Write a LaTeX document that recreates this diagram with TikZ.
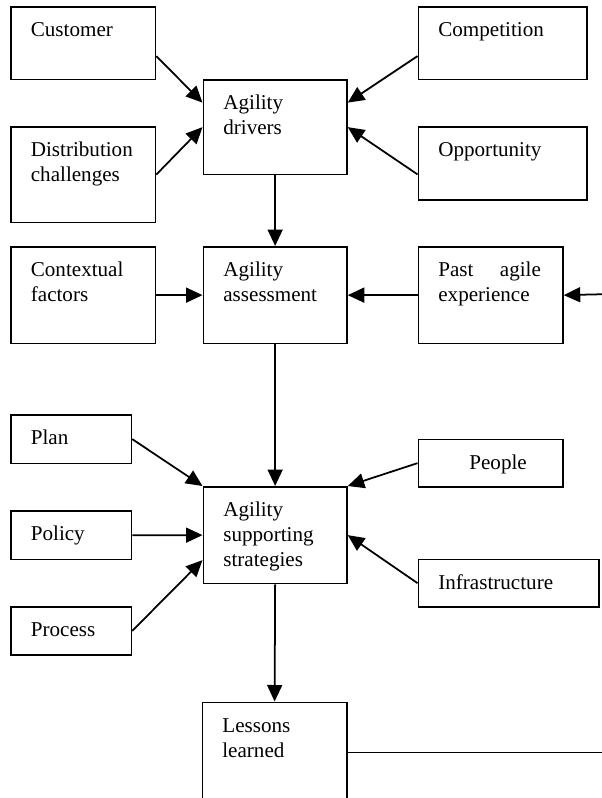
\documentclass[tikz,border=0pt]{standalone}
\usepackage{fontspec}
\setmainfont{Liberation Serif}
\usetikzlibrary{arrows.meta}
\begin{document}
\begin{tikzpicture}[x=1cm,y=1cm,
  box/.style 2 args={draw, line width=1pt, anchor=north west, align=left,
    inner xsep=0.4cm, inner ysep=0pt, text height=0.6cm,
    text width=#1, text depth=#2, font=\fontsize{12pt}{14.2pt}\selectfont},
  arr/.style={line width=1pt, -{Triangle[length=0.33cm,width=0.3cm]}}]
\useasboundingbox (0,0) rectangle (12.04,-15.96);
\node[box={2.09cm}{0.85cm}] (cu) at (0.20,-0.12) {Customer};
\node[box={2.57cm}{0.85cm}] (co) at (8.35,-0.12) {Competition};
\node[box={2.07cm}{1.29cm}] (dr) at (4.05,-1.58) {Agility\\drivers};
\node[box={2.09cm}{1.31cm}] (di) at (0.20,-2.52) {Distribution\\challenges};
\node[box={2.57cm}{0.86cm}] (op) at (8.35,-2.52) {Opportunity};
\node[box={2.09cm}{1.33cm}] (cx) at (0.20,-4.92) {Contextual\\factors};
\node[box={2.07cm}{1.33cm}] (as) at (4.05,-4.92) {Agility\\assessment};
\node[box={2.09cm}{1.33cm}] (pa) at (8.35,-4.92) {\hbox to 2.05cm{Past\hfill agile}\\experience};
\node[box={1.61cm}{0.37cm}] (pl) at (0.20,-8.28) {Plan};
\node[box={2.09cm}{0.35cm}] (pe) at (8.35,-8.77) {\hspace*{0.62cm}People};
\node[box={2.07cm}{1.33cm}] (st) at (4.05,-9.72) {Agility\\supporting\\strategies};
\node[box={1.61cm}{0.37cm}] (po) at (0.20,-10.20) {Policy};
\node[box={2.81cm}{0.35cm}] (in) at (8.35,-11.17) {Infrastructure};
\node[box={1.61cm}{0.36cm}] (pr) at (0.20,-12.12) {Process};
\node[box={2.09cm}{1.40cm}] (le) at (4.03,-14.03) {Lessons\\learned};
\coordinate (pi) at (12.04,-5.885);
\coordinate (lo) at (12.04,-15.03);
\draw[arr] ([yshift=-0.26cm]cu.east) -- ([yshift=0.49cm]dr.west);
\draw[arr] ([yshift=-0.26cm]co.west) -- ([yshift=0.49cm]dr.east);
\draw[arr] (di.east) -- (dr.west);
\draw[arr] ([yshift=-0.22cm]op.west) -- (dr.east);
\draw[arr] (dr.south) -- (as.north);
\draw[arr] (cx.east) -- (as.west);
\draw[arr] (pa.west) -- (as.east);
\draw[arr] (pi) -- (pa.east);
\draw[arr] (as.south) -- (st.north);
\draw[arr] (pl.east) -- (st.north west);
\draw[arr] (pe.west) -- (st.north east);
\draw[arr] (po.east) -- (st.west);
\draw[arr] (pr.east) -- ([yshift=-0.5cm]st.west);
\draw[arr] (in.west) -- (st.east);
\draw[arr] (st.south) -- (le.north);
\draw[line width=1pt] (le.east) -- (le.east -| lo);
\end{tikzpicture}
\end{document}
